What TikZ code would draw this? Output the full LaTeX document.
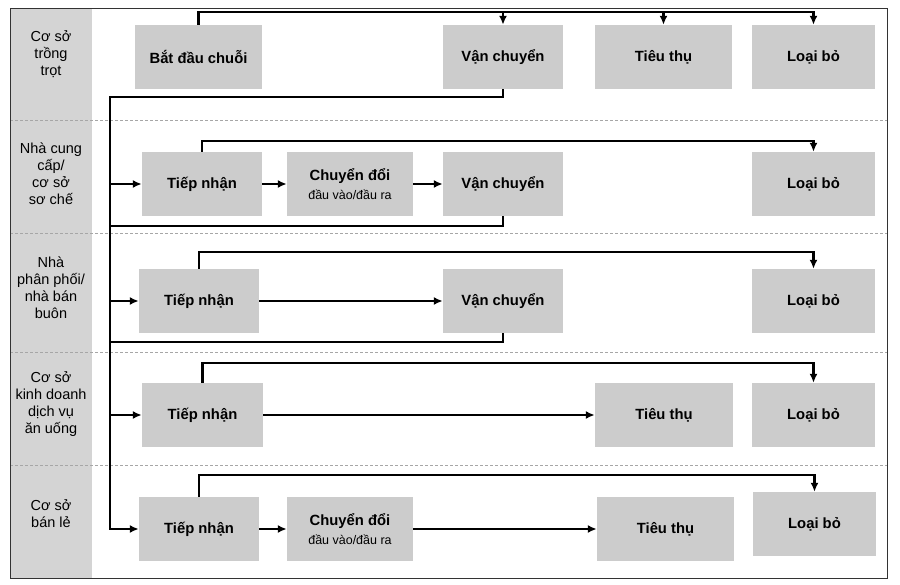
\documentclass[tikz,border=0pt]{standalone}
\usepackage{fontspec}
\setmainfont{Liberation Sans}
\usetikzlibrary{arrows.meta}

\begin{document}
\begin{tikzpicture}[x=1pt,y=-1pt,
 box/.style={fill=black!20,minimum height=64pt,inner sep=2pt,align=center,font=\fontsize{14.8}{16}\selectfont\bfseries},
 lane/.style={align=center,font=\fontsize{14.5}{17}\selectfont},
 flow/.style={line width=2.4pt,-{Latex[length=9pt,width=8pt]}},
 back/.style={line width=2.4pt}]
\useasboundingbox (0,0) rectangle (900,585);
% lanes
\fill[black!17] (10,8) rectangle (92,578);
\foreach \y in {120,233,352,465} \draw[gray!70,densely dashed] (10,\y) -- (887,\y);
\draw[black!80] (10,8) rectangle (887,578);
\node[lane] (l1) at (51,54) {Cơ sở\\trồng\\trọt};
\node[lane] (l2) at (51,174) {Nhà cung\\cấp/\\cơ sở\\sơ chế};
\node[lane] (l3) at (51,288) {Nhà\\phân phối/\\nhà bán\\buôn};
\node[lane] (l4) at (51,404) {Cơ sở\\kinh doanh\\dịch vụ\\ăn uống};
\node[lane] (l5) at (51,514) {Cơ sở\\bán lẻ};
% boxes
\node[box,minimum width=127pt] (start) at (198.5,57) {Bắt đầu chuỗi};
\node[box,minimum width=120pt] (vc1) at (503,57) {Vận chuyển};
\node[box,minimum width=137pt] (tt1) at (663.5,57) {Tiêu thụ};
\node[box,minimum width=123pt] (lb1) at (813.5,57) {Loại bỏ};

\node[box,minimum width=120pt] (tn2) at (202,184) {Tiếp nhận};
\node[box,minimum width=126pt] (cd2) at (350,184) {Chuyển đổi\\[3pt]{\mdseries\fontsize{12.5}{13}\selectfont đầu vào/đầu ra}};
\node[box,minimum width=120pt] (vc2) at (503,184) {Vận chuyển};
\node[box,minimum width=123pt] (lb2) at (813.5,184) {Loại bỏ};

\node[box,minimum width=120pt] (tn3) at (199,301) {Tiếp nhận};
\node[box,minimum width=120pt] (vc3) at (503,301) {Vận chuyển};
\node[box,minimum width=123pt] (lb3) at (813.5,301) {Loại bỏ};

\node[box,minimum width=121pt] (tn4) at (202.5,415) {Tiếp nhận};
\node[box,minimum width=138pt] (tt4) at (664,415) {Tiêu thụ};
\node[box,minimum width=123pt] (lb4) at (813.5,415) {Loại bỏ};

\node[box,minimum width=120pt] (tn5) at (199,529) {Tiếp nhận};
\node[box,minimum width=126pt] (cd5) at (350,529) {Chuyển đổi\\[3pt]{\mdseries\fontsize{12.5}{13}\selectfont đầu vào/đầu ra}};
\node[box,minimum width=137pt] (tt5) at (665.5,529) {Tiêu thụ};
\node[box,minimum width=123pt] (lb5) at (814.5,524) {Loại bỏ};
% top of chain
\coordinate (top1) at (0,12);
\draw[flow] (start.north) |- (lb1.north |- top1) -- (lb1.north);
\draw[flow] (vc1.north |- top1) -- (vc1.north);
\draw[flow] (tt1.north |- top1) -- (tt1.north);
% trunk down the left
\coordinate (tr) at (110,97);
\coordinate (j2) at (110,226);
\coordinate (j3) at (110,342);
\draw[flow] (vc1.south) |- (tr) |- (tn5.west);
\foreach \r in {2,3,4} \draw[flow] (tr |- tn\r.west) -- (tn\r.west);
\draw[back] (vc2.south) |- (j2);
\draw[back] (vc3.south) |- (j3);
% rows
\draw[flow] (tn2) -- (cd2);
\draw[flow] (cd2) -- (vc2);
\draw[flow] (tn3) -- (vc3);
\draw[flow] (tn4) -- (tt4);
\draw[flow] (tn5) -- (cd5);
\draw[flow] (cd5) -- (tt5);
% to Loai bo
\foreach \r/\h in {2/141,3/252,4/363,5/475}{
 \coordinate (f\r) at (0,\h);
 \draw[flow] (tn\r.north) |- (lb\r.north |- f\r) -- (lb\r.north);
}
\end{tikzpicture}
\end{document}
